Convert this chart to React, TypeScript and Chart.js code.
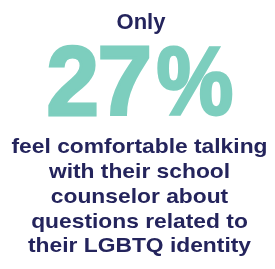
import React, { useEffect, useRef } from "react";
import { Chart, registerables } from "chart.js";

Chart.register(...registerables);

const leadWord = "Only";
const shareValue = 27;
const shareSuffix = "%";
const bodyLines = [
  "feel comfortable talking",
  "with their school",
  "counselor about",
  "questions related to",
  "their LGBTQ identity",
];

const NAVY = "#24245c";
const TEAL = "#7dcebe";

// horizontal extents for each glyph of the headline figure
const glyphBoxes: [number, number][] = [
  [48, 97],
  [100, 150],
  [157, 233],
];

const textPlugin = {
  id: "infographicText",
  afterDraw(chart: any) {
    const ctx: CanvasRenderingContext2D = chart.ctx;
    const cx = 139.5;
    ctx.save();
    ctx.textBaseline = "alphabetic";
    ctx.textAlign = "center";

    // "Only"
    ctx.fillStyle = NAVY;
    ctx.font = "bold 22px 'Liberation Sans', Arial, sans-serif";
    ctx.fillText(leadWord, 141, 29);

    // Big number, glyph by glyph
    const big = `${shareValue}${shareSuffix}`;
    ctx.textAlign = "left";
    ctx.font = "bold 100px 'Liberation Sans', Arial, sans-serif";
    const top = 44;
    const bottom = 116;
    const sw = 3;
    big.split("").forEach((ch, i) => {
      const box = glyphBoxes[Math.min(i, glyphBoxes.length - 1)];
      const m = ctx.measureText(ch);
      const w = m.actualBoundingBoxLeft + m.actualBoundingBoxRight + sw;
      const h = m.actualBoundingBoxAscent + m.actualBoundingBoxDescent + sw;
      const sx = (box[1] - box[0]) / w;
      const sy = (bottom - top) / h;
      ctx.save();
      ctx.translate(box[0], bottom - (m.actualBoundingBoxDescent + sw / 2) * sy);
      ctx.scale(sx, sy);
      ctx.fillStyle = TEAL;
      ctx.strokeStyle = TEAL;
      ctx.lineWidth = sw;
      ctx.lineJoin = "miter";
      const x = m.actualBoundingBoxLeft + sw / 2;
      ctx.fillText(ch, x, 0);
      ctx.strokeText(ch, x, 0);
      ctx.restore();
    });

    // Body
    ctx.textAlign = "center";
    ctx.fillStyle = NAVY;
    ctx.font = "bold 21px 'Liberation Sans', Arial, sans-serif";
    const lw = ctx.measureText(bodyLines[0]).width;
    const bsx = 256 / lw;
    const baselines = [153, 178, 203, 228, 252];
    bodyLines.forEach((line, i) => {
      ctx.save();
      ctx.translate(cx, baselines[i]);
      ctx.scale(bsx, 1);
      ctx.fillText(line, 0, 0);
      ctx.restore();
    });
    ctx.restore();
  },
};

export default function App() {
  const ref = useRef<HTMLCanvasElement | null>(null);
  useEffect(() => {
    document.body.style.margin = "0";
    if (!ref.current) return;
    const chart = new Chart(ref.current, {
      type: "bar",
      data: {
        labels: [leadWord],
        datasets: [{ label: "share", data: [shareValue], backgroundColor: "rgba(0,0,0,0)" }],
      },
      options: {
        responsive: false,
        animation: false,
        layout: { padding: 0 },
        plugins: { legend: { display: false }, tooltip: { enabled: false } },
        scales: { x: { display: false }, y: { display: false, min: 0, max: 100 } },
      },
      plugins: [textPlugin],
    });
    return () => chart.destroy();
  }, []);
  return (
    <div style={{ width: 275, height: 269, background: "#fff" }}>
      <canvas ref={ref} width={275} height={269} />
    </div>
  );
}
